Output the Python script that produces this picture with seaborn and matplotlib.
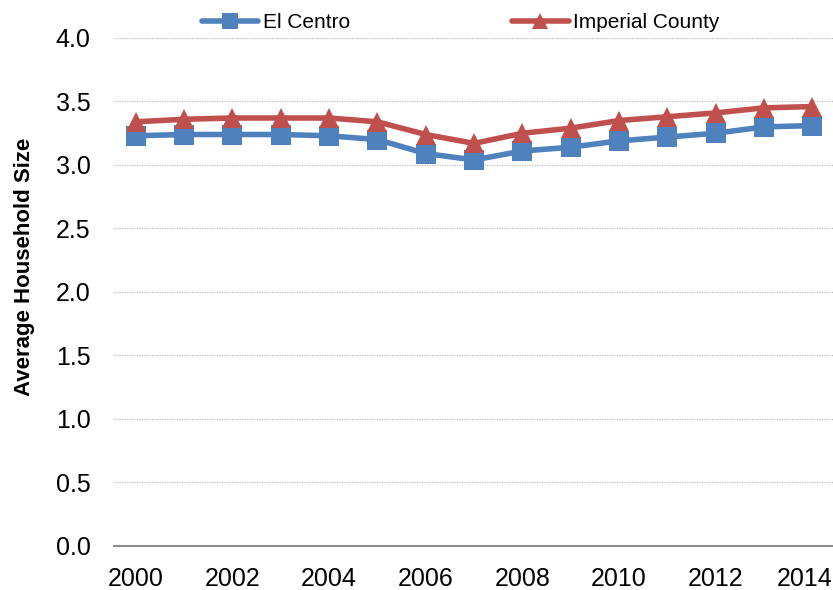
import pandas as pd
import matplotlib.pyplot as plt
import matplotlib.transforms as mtransforms
import seaborn as sns
from matplotlib.lines import Line2D

# dane
years = list(range(2000, 2015))
el_centro = [3.23, 3.24, 3.24, 3.24, 3.23, 3.20, 3.09, 3.04, 3.11, 3.14, 3.19, 3.22, 3.25, 3.30, 3.31]
imperial = [3.34, 3.36, 3.37, 3.37, 3.37, 3.34, 3.24, 3.17, 3.25, 3.29, 3.35, 3.38, 3.41, 3.45, 3.46]
series_names = ['El Centro', 'Imperial County']

df = pd.DataFrame({
    'year': years * 2,
    'size': el_centro + imperial,
    'area': [series_names[0]] * len(years) + [series_names[1]] * len(years),
})

sns.set_style('white')
plt.rcParams['font.family'] = ['Liberation Sans Narrow', 'Liberation Sans', 'DejaVu Sans']
plt.rcParams['text.color'] = 'black'
plt.rcParams['axes.labelcolor'] = 'black'
plt.rcParams['xtick.color'] = 'black'
plt.rcParams['ytick.color'] = 'black'

blue = '#4F81BD'
red = '#C0504D'

fig = plt.figure(figsize=(8.33, 5.9), dpi=100)
ax = fig.add_axes([0.137, 0.0746, 0.863, 0.861])

sns.lineplot(data=df, x='year', y='size', hue='area', style='area',
             palette={series_names[0]: blue, series_names[1]: red},
             markers={series_names[0]: 's', series_names[1]: '^'},
             dashes=False, linewidth=4, markersize=15, markeredgewidth=0,
             legend=False, ax=ax)

ax.set_xlim(1999.55, 2014.43)
ax.set_ylim(0, 4.0)
ax.set_xticks(range(2000, 2015, 2))
ax.set_yticks([i * 0.5 for i in range(9)])
ax.set_yticklabels([f'{i * 0.5:.1f}' for i in range(9)])
ax.tick_params(axis='both', labelsize=18, length=0)
ax.tick_params(axis='y', pad=17)
ax.tick_params(axis='x', pad=15)
ax.yaxis.grid(True, linestyle=(0, (1, 1)), color='#BFBFBF', linewidth=0.9)
ax.set_axisbelow(True)

# ostatnia etykieta (2014) lekko w lewo, żeby się zmieściła
last = ax.get_xticklabels()[-1]
last.set_transform(last.get_transform() +
                   mtransforms.ScaledTranslation(-0.08, 0, fig.dpi_scale_trans))

for s in ['top', 'right', 'left']:
    ax.spines[s].set_visible(False)
ax.spines['bottom'].set_color('#8C8C8C')
ax.spines['bottom'].set_linewidth(1.5)

ax.set_xlabel('')
ax.set_ylabel('Average Household Size', fontsize=16, fontweight='bold', color='black',
              family=['Liberation Sans', 'DejaVu Sans'])
ax.yaxis.set_label_coords(-0.11, 0.55)

handles = [
    Line2D([], [], color=blue, marker='s', linewidth=4, markersize=11, markeredgewidth=0),
    Line2D([], [], color=red, marker='^', linewidth=4, markersize=11, markeredgewidth=0),
]
fig.legend(handles, series_names, loc='upper center', bbox_to_anchor=(0.553, 1.01),
           ncol=2, frameon=False, fontsize=15, handlelength=2.7, handletextpad=0.2,
           columnspacing=7.8)

fig.savefig('out.png', dpi=100)
